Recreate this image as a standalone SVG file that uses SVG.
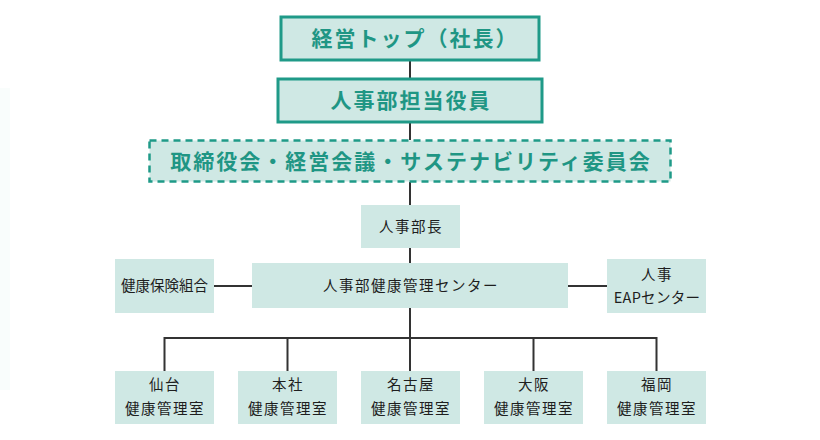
<svg xmlns="http://www.w3.org/2000/svg" width="820" height="440" viewBox="0 0 820 440">
<style>
.bg{fill:#ffffff}
.top{fill:#cfe8e4;stroke:#1f9a88;stroke-width:3}
.dash{fill:#cfe8e4;stroke:#1f9a88;stroke-width:2.5;stroke-dasharray:7 5}
.box{fill:#cfe8e4}
.tt{font-family:"Noto Sans CJK JP","Noto Sans",sans-serif;font-weight:bold;font-size:21px;fill:#1f9684;text-anchor:middle;letter-spacing:2px}
.st{font-family:"Noto Sans CJK JP","Noto Sans",sans-serif;font-size:14.5px;fill:#1e1e1e;text-anchor:middle;letter-spacing:1.5px}
.ln{fill:none;stroke:#333333;stroke-width:2}
</style>
<rect class="bg" x="0" y="0" width="820" height="440"/>
<rect x="0" y="88" width="10" height="302" fill="#f9fdfc"/>
<g id="connectors">
<line class="ln" x1="410" y1="60" x2="410" y2="78"/>
<line class="ln" x1="410" y1="122" x2="410" y2="140"/>
<line class="ln" x1="410" y1="182" x2="410" y2="205"/>
<line class="ln" x1="410" y1="248" x2="410" y2="263"/>
<line class="ln" x1="410" y1="308" x2="410" y2="338"/>
<line class="ln" x1="214" y1="286" x2="252" y2="286"/>
<line class="ln" x1="568" y1="286" x2="607" y2="286"/>
<polyline class="ln" points="164.5,371 164.5,338 656.5,338 656.5,371"/>
<line class="ln" x1="287.5" y1="338" x2="287.5" y2="371"/>
<line class="ln" x1="410" y1="338" x2="410" y2="371"/>
<line class="ln" x1="533.5" y1="338" x2="533.5" y2="371"/>
</g>
<g id="top">
<rect class="top" x="281" y="17" width="258" height="43"/>
<text class="tt" x="415" y="46">経営トップ（社長）</text>
</g>
<g id="officer">
<rect class="top" x="278" y="79" width="264" height="43"/>
<text class="tt" x="411" y="108">人事部担当役員</text>
</g>
<g id="board">
<rect class="dash" x="149.5" y="140.5" width="521" height="41"/>
<text class="tt" x="411" y="168.5">取締役会・経営会議・サステナビリティ委員会</text>
</g>
<g id="hrhead">
<rect class="box" x="361" y="205" width="99" height="43"/>
<text class="st" x="411" y="231.5">人事部長</text>
</g>
<g id="center">
<rect class="box" x="252" y="263" width="316" height="45"/>
<text class="st" x="411" y="290.5">人事部健康管理センター</text>
</g>
<g id="kenpo">
<rect class="box" x="115" y="259" width="99" height="54"/>
<text class="st" x="164.5" y="290.5" style="letter-spacing:0">健康保険組合</text>
</g>
<g id="eap">
<rect class="box" x="607" y="259" width="99" height="54"/>
<text class="st" x="657" y="280">人事</text>
<text class="st" x="657" y="303" style="letter-spacing:0.3px">EAPセンター</text>
</g>
<g id="sendai">
<rect class="box" x="115" y="371" width="99" height="53"/>
<text class="st" x="165" y="390">仙台</text>
<text class="st" x="165" y="414">健康管理室</text>
</g>
<g id="honsha">
<rect class="box" x="238" y="371" width="99" height="53"/>
<text class="st" x="288" y="390">本社</text>
<text class="st" x="288" y="414">健康管理室</text>
</g>
<g id="nagoya">
<rect class="box" x="361" y="371" width="99" height="53"/>
<text class="st" x="411" y="390">名古屋</text>
<text class="st" x="411" y="414">健康管理室</text>
</g>
<g id="osaka">
<rect class="box" x="484" y="371" width="99" height="53"/>
<text class="st" x="534" y="390">大阪</text>
<text class="st" x="534" y="414">健康管理室</text>
</g>
<g id="fukuoka">
<rect class="box" x="607" y="371" width="99" height="53"/>
<text class="st" x="657" y="390">福岡</text>
<text class="st" x="657" y="414">健康管理室</text>
</g>
</svg>
